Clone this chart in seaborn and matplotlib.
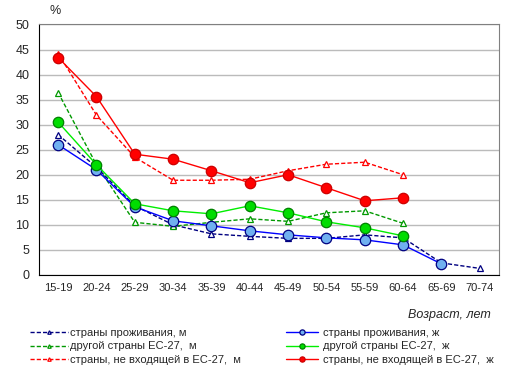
import numpy as np
import pandas as pd
import matplotlib
matplotlib.use("Agg")
import matplotlib.pyplot as plt
import seaborn as sns

# ------------------ data ------------------ #
ages = ['15-19', '20-24', '25-29', '30-34', '35-39', '40-44',
        '45-49', '50-54', '55-59', '60-64', '65-69', '70-74']

res_m = [28.0, 21.5, 13.8, 10.0, 8.2, 7.7, 7.3, 7.3, 8.0, 7.4, 2.4, 1.3]
res_f = [26.0, 21.0, 13.6, 10.8, 9.8, 8.8, 8.0, 7.4, 7.0, 6.0, 2.2, np.nan]
eu_m = [36.4, 22.0, 10.5, 9.7, 10.5, 11.2, 10.7, 12.4, 12.8, 10.3, np.nan, np.nan]
eu_f = [30.5, 22.0, 14.2, 12.8, 12.2, 13.8, 12.4, 10.6, 9.4, 7.8, np.nan, np.nan]
non_m = [44.2, 31.9, 23.5, 18.9, 18.9, 19.1, 20.8, 22.1, 22.5, 20.0, np.nan, np.nan]
non_f = [43.4, 35.6, 24.1, 23.1, 20.8, 18.4, 20.0, 17.4, 14.8, 15.4, np.nan, np.nan]

labels_m = ['страны проживания, м', 'другой страны ЕС-27,  м', 'страны, не входящей в ЕС-27,  м']
labels_f = ['страны проживания, ж', 'другой страны ЕС-27,  ж', 'страны, не входящей в ЕС-27,  ж']

# ------------------ plot ------------------ #
sns.set_style('white')
plt.rcParams['font.family'] = ['Liberation Sans', 'DejaVu Sans']

fig = plt.figure(figsize=(5.15, 3.71), dpi=100)
ax = fig.add_axes([0.0757, 0.259, 0.893, 0.675])

x = np.arange(len(ages))
# (values, label, line colour, marker, face colour, edge colour, dashed)
series = [
    (res_m, labels_m[0], '#000080', '^', 'white', '#000080', True),
    (eu_m, labels_m[1], '#009900', '^', 'white', '#009900', True),
    (non_m, labels_m[2], '#ff0000', '^', 'white', '#ff0000', True),
    (res_f, labels_f[0], '#0000ff', 'o', '#70b0f0', '#000080', False),
    (eu_f, labels_f[1], '#00ee00', 'o', '#00dd00', '#008000', False),
    (non_f, labels_f[2], '#ff0000', 'o', '#ff0000', '#cc0000', False),
]

for vals, lab, col, mk, fc, ec, dashed in series:
    df = pd.DataFrame({'x': x, 'y': vals}).dropna()
    sns.lineplot(data=df, x='x', y='y', ax=ax, color=col, lw=1.0,
                 linestyle=(0, (3, 1.5)) if dashed else '-',
                 marker=mk, markersize=5 if mk == '^' else 7.5,
                 markerfacecolor=fc, markeredgecolor=ec,
                 markeredgewidth=0.9, label=lab, legend=False)

ax.set_xlim(-0.5, len(ages) - 0.5)
ax.set_ylim(0, 50)
ax.set_yticks(range(0, 51, 5))
ax.set_xticks(x)
ax.set_xticklabels(ages)
ax.set_xlabel('')
ax.set_ylabel('')
ax.tick_params(axis='x', labelsize=8, length=0, pad=6)
ax.tick_params(axis='y', labelsize=9, length=0, pad=7)
ax.yaxis.grid(True, color='#bbbbbb', lw=1)
ax.set_axisbelow(True)
for s in ['top', 'right']:
    ax.spines[s].set_color('#808080')
for s in ['left', 'bottom']:
    ax.spines[s].set_color('black')

fig.text(0.107, 0.955, '%', fontsize=9, ha='center', va='bottom')
fig.text(0.952, 0.15, 'Возраст, лет', fontsize=9, style='italic', ha='right', va='center')

# two legend columns, male (dashed) on the left, female (solid) on the right
handles, labs = ax.get_legend_handles_labels()
fig.legend(handles[:3], labs[:3], loc='upper left',
           bbox_to_anchor=(0.05, 0.129), frameon=False, fontsize=8,
           handlelength=3.4, handletextpad=0.2,
           labelspacing=0.35, borderaxespad=0, markerscale=0.5)
fig.legend(handles[3:], labs[3:], loc='upper left',
           bbox_to_anchor=(0.547, 0.129), frameon=False, fontsize=8,
           handlelength=2.9, handletextpad=0.4,
           labelspacing=0.35, borderaxespad=0, markerscale=0.5)

fig.savefig('out.png', dpi=100)
